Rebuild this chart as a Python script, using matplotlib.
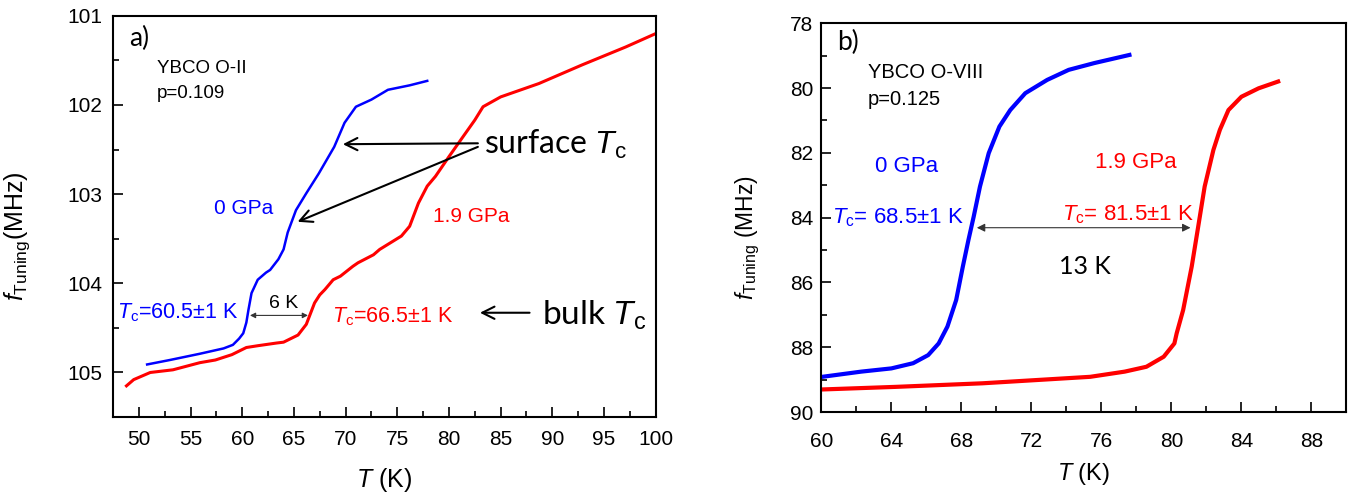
import numpy as np
import matplotlib
matplotlib.use('Agg')
import matplotlib.pyplot as plt
from matplotlib.ticker import MultipleLocator

plt.rcParams['font.family'] = ['Liberation Sans', 'DejaVu Sans']
plt.rcParams['mathtext.fontset'] = 'custom'
plt.rcParams['mathtext.rm'] = 'Liberation Sans'
plt.rcParams['mathtext.it'] = 'Liberation Sans:italic'

# ---- panel a) YBCO O-II, p=0.109 ----
a_T_0gpa = [50.8, 53.0, 55.9, 58.2, 59.1, 59.7, 60.1, 60.4, 60.6, 60.9, 61.5, 62.3, 62.7,
            63.5, 64.0, 64.4, 65.2, 66.2, 67.4, 68.9, 69.9, 71.0, 72.5, 74.1, 76.2, 77.9]
a_f_0gpa = [104.91, 104.86, 104.79, 104.73, 104.69, 104.62, 104.56, 104.44, 104.30, 104.11,
            103.96, 103.88, 103.85, 103.73, 103.62, 103.43, 103.18, 102.99, 102.77, 102.47,
            102.20, 102.02, 101.94, 101.83, 101.78, 101.73]

a_T_19gpa = [48.8, 49.5, 50.3, 51.1, 53.3, 55.9, 57.4, 59.0, 60.4, 61.5, 63.3, 64.0, 65.4,
             66.2, 66.7, 67.0, 67.5, 68.0, 68.8, 69.5, 70.7, 71.2, 72.7, 73.3, 75.4, 76.2,
             77.05, 77.9, 78.7, 80.0, 81.4, 82.5, 83.3, 85.0, 88.7, 92.9, 97.1, 100.0]
a_f_19gpa = [105.15, 105.08, 105.04, 105.00, 104.97, 104.89, 104.86, 104.80, 104.72, 104.70,
             104.67, 104.66, 104.58, 104.46, 104.31, 104.22, 104.13, 104.07, 103.96, 103.92,
             103.81, 103.77, 103.68, 103.62, 103.47, 103.36, 103.10, 102.91, 102.80, 102.58,
             102.35, 102.17, 102.02, 101.91, 101.76, 101.55, 101.35, 101.20]

# ---- panel b) YBCO O-VIII, p=0.125 ----
b_T_0gpa = [60.05, 62.27, 64.0, 65.24, 66.1, 66.7, 67.2, 67.7, 68.08, 68.4, 68.7, 69.06,
            69.56, 70.17, 70.79, 71.65, 72.9, 74.13, 75.6, 77.6]
b_f_0gpa = [88.91, 88.75, 88.65, 88.49, 88.24, 87.88, 87.36, 86.54, 85.51, 84.69, 83.97,
            83.04, 82.01, 81.19, 80.68, 80.16, 79.75, 79.44, 79.23, 78.98]

b_T_19gpa = [60.05, 64.25, 69.2, 72.9, 75.36, 77.33, 78.57, 79.56, 80.17, 80.3, 80.67,
             81.16, 81.53, 81.9, 82.4, 82.77, 83.26, 84.0, 84.98, 86.1]
b_f_19gpa = [89.30, 89.22, 89.11, 88.99, 88.91, 88.75, 88.60, 88.29, 87.88, 87.57, 86.85,
             85.51, 84.28, 83.04, 81.91, 81.29, 80.68, 80.27, 80.01, 79.80]

blue = '#0000ff'
red = '#ff0000'
calibri = ['Lato', 'DejaVu Sans']

fig = plt.figure(figsize=(13.6, 4.93), dpi=100)
axA = fig.add_axes([0.0831, 0.154, 0.399, 0.814])
axB = fig.add_axes([0.604, 0.164, 0.386, 0.789])

# Panel a
axA.plot(a_T_0gpa, a_f_0gpa, color=blue, lw=1.8)
axA.plot(a_T_19gpa, a_f_19gpa, color=red, lw=2.2)
axA.set_xlim(47.5, 100)
axA.set_ylim(105.5, 101)
axA.xaxis.set_major_locator(MultipleLocator(5))
axA.xaxis.set_minor_locator(MultipleLocator(2.5))
axA.yaxis.set_major_locator(MultipleLocator(1))
axA.yaxis.set_minor_locator(MultipleLocator(0.5))
axA.tick_params(axis='x', which='major', pad=9)
axA.tick_params(axis='y', which='major', pad=8)

axA.text(49.1, 101.25, 'a)', fontsize=19, family=calibri, va='center')
axA.text(51.75, 101.59, 'YBCO O-II', fontsize=13.5, va='center')
axA.text(51.75, 101.87, 'p=0.109', fontsize=13.5, va='center')
axA.text(57.3, 103.16, '0 GPa', fontsize=15, color=blue, va='center')
axA.text(78.5, 103.25, '1.9 GPa', fontsize=15, color=red, va='center')
axA.text(47.9, 104.39, r'$T_\mathrm{c}$=60.5±1 K', fontsize=15.5, color=blue, va='baseline')
axA.text(68.7, 104.44, r'$T_\mathrm{c}$=66.5±1 K', fontsize=15.5, color=red, va='baseline')
axA.text(64.0, 104.28, '6 K', fontsize=14, ha='center', va='baseline')
axA.annotate('', xy=(60.75, 104.36), xytext=(66.36, 104.36),
             arrowprops=dict(arrowstyle='<|-|>', lw=0.8, color='#333333',
                             mutation_scale=8, shrinkA=0, shrinkB=0))
axA.text(83.4, 102.55, r'surface $T_\mathrm{c}$', fontsize=23, family=calibri, va='baseline')
axA.annotate('', xy=(69.74, 102.44), xytext=(82.8, 102.43),
             arrowprops=dict(arrowstyle='->', lw=1.5, color='black',
                             mutation_scale=22, shrinkA=0, shrinkB=0))
axA.annotate('', xy=(65.36, 103.31), xytext=(82.8, 102.47),
             arrowprops=dict(arrowstyle='->', lw=1.5, color='black',
                             mutation_scale=22, shrinkA=0, shrinkB=0))
axA.text(89.0, 104.46, r'bulk $T_\mathrm{c}$', fontsize=24, family=calibri, va='baseline')
axA.annotate('', xy=(83.0, 104.33), xytext=(87.8, 104.33),
             arrowprops=dict(arrowstyle='->', lw=1.5, color='black',
                             mutation_scale=22, shrinkA=0, shrinkB=0))

axA.set_xlabel(r'$T$ (K)', fontsize=18)
axA.set_ylabel(r'$f_{\mathrm{Tuning}}$(MHz)', fontsize=18)
axA.xaxis.set_label_coords(0.5, -0.122)
axA.yaxis.set_label_coords(-0.149, 0.45)

# Panel b
axB.plot(b_T_0gpa, b_f_0gpa, color=blue, lw=3)
axB.plot(b_T_19gpa, b_f_19gpa, color=red, lw=3)
axB.set_xlim(60, 90)
axB.set_ylim(90, 78)
axB.xaxis.set_major_locator(MultipleLocator(4))
axB.xaxis.set_minor_locator(MultipleLocator(2))
axB.yaxis.set_major_locator(MultipleLocator(2))
axB.yaxis.set_minor_locator(MultipleLocator(1))
axB.tick_params(axis='x', which='major', pad=14)
axB.tick_params(axis='y', which='major', pad=6)

axB.text(60.9, 78.61, 'b)', fontsize=19, family=calibri, va='center')
axB.text(62.66, 79.53, 'YBCO O-VIII', fontsize=14.5, va='center')
axB.text(62.66, 80.37, 'p=0.125', fontsize=14.5, va='center')
axB.text(63.06, 82.43, '0 GPa', fontsize=16, color=blue, va='center')
axB.text(75.66, 82.31, '1.9 GPa', fontsize=16, color=red, va='center')
axB.text(60.58, 84.17, r'$T_\mathrm{c}$= 68.5±1 K', fontsize=16, color=blue, va='baseline')
axB.text(73.75, 84.07, r'$T_\mathrm{c}$= 81.5±1 K', fontsize=16, color=red, va='baseline')
axB.annotate('', xy=(68.88, 84.31), xytext=(81.09, 84.31),
             arrowprops=dict(arrowstyle='<|-|>', lw=0.8, color='#333333',
                             mutation_scale=12, shrinkA=0, shrinkB=0))
axB.text(75.05, 85.51, '13 K', fontsize=18, family=calibri, ha='center', va='center')

axB.set_xlabel(r'$T$ (K)', fontsize=17)
axB.set_ylabel(r'$f_{\mathrm{Tuning}}$ (MHz)', fontsize=16.5)
axB.xaxis.set_label_coords(0.5, -0.126)
axB.yaxis.set_label_coords(-0.113, 0.45)

for ax in (axA, axB):
    for sp in ax.spines.values():
        sp.set_linewidth(1.5)
    ax.tick_params(which='both', direction='in', top=False, right=False,
                   labelsize=15, width=1.2)
    ax.tick_params(which='major', length=7)
    ax.tick_params(which='minor', length=4)

fig.savefig('out.png', dpi=100, facecolor='white')
